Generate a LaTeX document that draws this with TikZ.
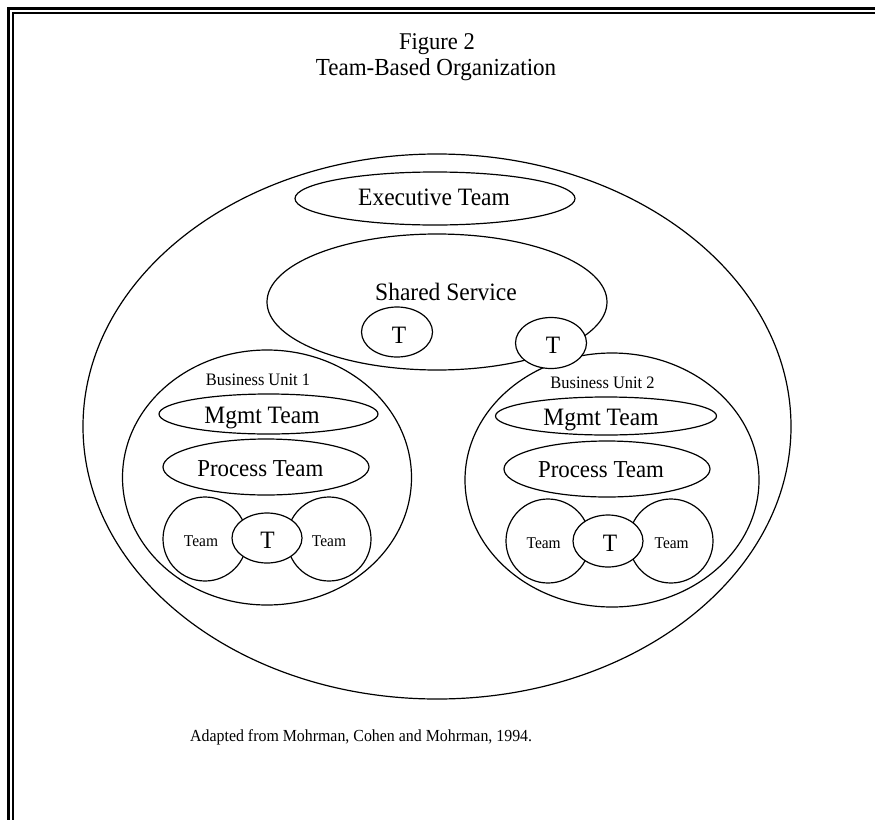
\documentclass[tikz,border=0pt]{standalone}
\usepackage{fontspec}
\setmainfont{Liberation Serif}
\newfontfamily\tallfont{Liberation Serif}[FakeStretch=0.94]
\usetikzlibrary{shapes.geometric}
\begin{document}
\begin{tikzpicture}[x=1pt,y=-1pt,
  ell/.style={draw,ellipse,line width=1.2pt,inner sep=0pt},
  tee/.style={ell,fill=white},
  big/.style={font=\tallfont\fontsize{25}{27}\selectfont,anchor=base,inner sep=0pt},
  small/.style={font=\tallfont\fontsize{17.5}{19}\selectfont,anchor=base,inner sep=0pt},
  teamtxt/.style={font=\tallfont\fontsize{16.4}{18}\selectfont,anchor=base,inner sep=0pt},
  framebar/.style={line cap=butt,line join=miter}]
\useasboundingbox (0,0) rectangle (875,819);
% frame
\draw[framebar,line width=2.7pt] (8.7,830) -- (8.7,8.7) -- (880,8.7);
\draw[framebar,line width=2pt] (13,830) -- (13,13) -- (880,13);
% title
\node[big,font=\tallfont\fontsize{24}{26}\selectfont] (fig) at (437,49) {Figure 2};
\node[big,font=\tallfont\fontsize{24.5}{26}\selectfont] (ttl) at (436,75) {Team-Based Organization};
% outer organisation
\node[ell,minimum width=708pt,minimum height=545pt] (org) at (437,426.5) {};
\node[ell,minimum width=280pt,minimum height=53pt] (exec) at (435,198.5) {};
\node[big] (exect) at (434,205.7) {Executive Team};
\node[ell,minimum width=340pt,minimum height=136pt] (ss) at (437,302) {};
\node[big] (sst) at (446,300) {Shared Service};
% business unit 1
\node[ell,minimum width=289pt,minimum height=255pt] (bu1) at (267,477.5) {};
\node[small] (bu1t) at (258,385) {Business Unit 1};
\node[ell,minimum width=219pt,minimum height=40pt] (mg1) at (268.5,414) {};
\node[big] (mg1t) at (262,423.3) {Mgmt Team};
\node[ell,minimum width=206pt,minimum height=56pt] (pr1) at (266,467) {};
\node[big,font=\tallfont\fontsize{24.3}{26}\selectfont] (pr1t) at (260.3,476.7) {Process Team};
\node[ell,minimum width=84pt,minimum height=84pt] (tl1) at (205,539) {};
\node[ell,minimum width=84pt,minimum height=84pt] (tr1) at (329,539) {};
\node[teamtxt] (tl1t) at (201,546.7) {Team};
\node[teamtxt] (tr1t) at (329,546.7) {Team};
\node[tee,minimum width=70pt,minimum height=50pt] (t1) at (267,538) {};
\node[big] (t1t) at (267.5,548) {T};
% business unit 2
\node[ell,minimum width=294pt,minimum height=254pt] (bu2) at (612,480) {};
\node[small] (bu2t) at (602.5,388) {Business Unit 2};
\node[ell,minimum width=221pt,minimum height=38pt] (mg2) at (606,416) {};
\node[big] (mg2t) at (601,425.7) {Mgmt Team};
\node[ell,minimum width=206pt,minimum height=56pt] (pr2) at (607,469) {};
\node[big,font=\tallfont\fontsize{24.3}{26}\selectfont] (pr2t) at (601,477) {Process Team};
\node[ell,minimum width=84pt,minimum height=84pt] (tl2) at (548,541) {};
\node[ell,minimum width=84pt,minimum height=84pt] (tr2) at (671,541) {};
\node[teamtxt] (tl2t) at (543.7,548) {Team};
\node[teamtxt] (tr2t) at (671.7,548) {Team};
\node[tee,minimum width=70pt,minimum height=52pt] (t2) at (608,541) {};
\node[big] (t2t) at (610,551.7) {T};
% shared service teams
\node[tee,minimum width=71pt,minimum height=50pt] (tss) at (397,332) {};
\node[big] (tsst) at (399,343) {T};
\node[tee,minimum width=71pt,minimum height=51pt] (tlink) at (551,343) {};
\node[big] (tlinkt) at (553,353) {T};
% source
\node[font=\tallfont\fontsize{16.9}{18}\selectfont,anchor=base west,inner sep=0pt] (src) at (190,741) {Adapted from Mohrman, Cohen and Mohrman, 1994.};
\end{tikzpicture}
\end{document}
